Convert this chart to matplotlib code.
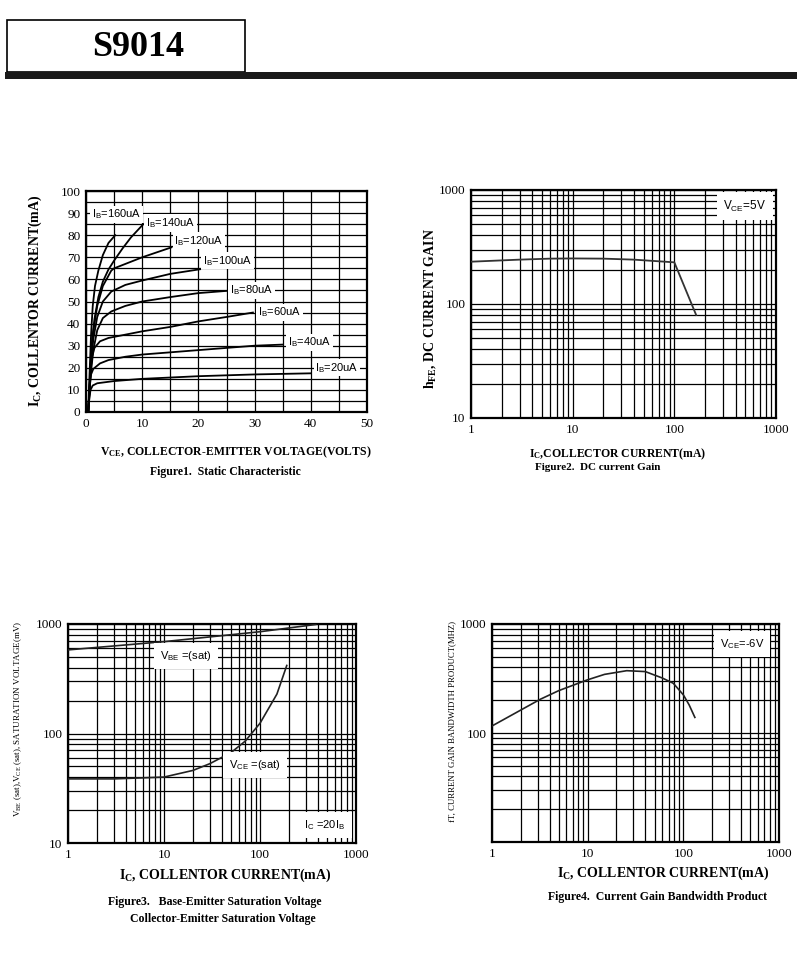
import numpy as np
import matplotlib
matplotlib.use("Agg")
import matplotlib.pyplot as plt
from matplotlib.patches import Rectangle
from matplotlib.ticker import FixedLocator, NullFormatter, LogLocator

W, H = 811, 957

# ---- Figure 1: static characteristic (Vce in V, Ic in mA) ----
ib_labels = ["160", "140", "120", "100", "80", "60", "40", "20"]
vce_curves = [
    [0.4, 0.6, 0.9, 1.2, 1.6, 2.2, 3.0, 4.0, 5.2],
    [0.4, 0.7, 1.0, 1.5, 2.2, 3.0, 4.0, 5.0, 6.5, 8.0, 10.2],
    [0.4, 0.8, 1.2, 2.0, 3.0, 4.5, 5.0, 10.0, 15.2],
    [0.4, 0.8, 1.3, 2.0, 3.0, 4.5, 7.0, 10.0, 15.0, 20.3],
    [0.4, 0.8, 1.3, 2.0, 3.0, 4.5, 7.0, 10.0, 15.0, 20.0, 25.0],
    [0.4, 0.7, 1.0, 1.5, 2.5, 4.0, 7.0, 10.0, 15.0, 20.0, 25.0, 29.7],
    [0.4, 0.6, 0.9, 1.3, 2.5, 4.0, 7.0, 10.0, 20.0, 30.0, 35.0],
    [0.4, 0.55, 0.8, 1.2, 2.0, 5.0, 10.0, 20.0, 30.0, 40.0],
]
ic_curves = [
    [0, 15, 35, 48, 57, 64, 71, 76.5, 80],
    [0, 15, 30, 42, 52, 59, 64.5, 68.5, 74, 79, 85],
    [0, 20, 35, 48, 57, 64, 65, 70, 74.5],
    [0, 18, 33, 43, 50, 54.5, 57.5, 59.5, 62.5, 64.6],
    [0, 16, 28, 37, 42.5, 45.5, 48, 50, 52, 53.8, 54.8],
    [0, 14, 24, 29, 32, 33.5, 35, 36.5, 38.5, 41, 43, 45],
    [0, 10, 17, 19.5, 22, 23.5, 25, 26, 28, 30, 30.5],
    [0, 5, 10, 12, 13, 14, 15, 16.2, 17, 17.5],
]
label_v = [1.0, 10.6, 15.7, 20.8, 25.6, 30.6, 35.9, 40.8]
label_i = [89.5, 85.5, 77.5, 68.5, 55.0, 45.0, 31.5, 20.0]

# ---- Figure 2: DC current gain ----
f2_ic = [1, 3, 6, 10, 20, 40, 100, 164]
f2_hfe = [235, 245, 250, 251, 250, 245, 232, 80]

# ---- Figure 3: saturation voltages ----
f3_ic_be = [1, 10, 100, 380]
f3_vbe = [580, 690, 850, 990]
f3_ic_ce = [1, 3, 10, 20, 30, 50, 70, 100, 150, 190]
f3_vce = [38.5, 38.5, 40, 46, 53, 67, 85, 124, 229, 418]

# ---- Figure 4: fT ----
f4_ic = [1, 3.2, 5, 9.8, 15, 25.6, 40, 60, 78.5, 100, 115, 132]
f4_ft = [116, 204, 245, 306, 345, 373, 366, 320, 286, 224, 181, 139]

SERIF = "Liberation Serif"
SANS = "Liberation Sans"
plt.rcParams["font.family"] = SERIF
plt.rcParams["mathtext.default"] = "regular"


def px(x, y):
    return x / W, 1 - y / H


def make_axes(fig, left, top, right, bottom):
    ax = fig.add_axes([left / W, 1 - bottom / H, (right - left) / W, (bottom - top) / H])
    for s in ax.spines.values():
        s.set_linewidth(1.6)
    ax.set_axisbelow(True)
    ax.tick_params(which="both", length=0, labelsize=9.5, pad=4)
    return ax


def style_log(ax, ylabels=(10, 100, 1000)):
    ax.set_xscale("log")
    ax.set_yscale("log")
    ax.set_xlim(1, 1000)
    ax.set_ylim(10, 1000)
    ax.xaxis.set_major_locator(FixedLocator([1, 10, 100, 1000]))
    ax.set_xticklabels(["1", "10", "100", "1000"])
    ax.yaxis.set_major_locator(FixedLocator(list(ylabels)))
    ax.set_yticklabels([str(v) for v in ylabels])
    ax.xaxis.set_minor_locator(LogLocator(base=10, subs=np.arange(2, 10)))
    ax.yaxis.set_minor_locator(LogLocator(base=10, subs=np.arange(1, 10)))
    ax.xaxis.set_minor_formatter(NullFormatter())
    ax.yaxis.set_minor_formatter(NullFormatter())
    ax.grid(True, which="both", color="black", linewidth=0.9)


def tag(ax, x, y, s, size=8):
    ax.text(x, y, s, transform=ax.transAxes, ha="center", va="center",
            fontsize=size, family=SANS, zorder=5,
            bbox=dict(boxstyle="square,pad=0.55", fc="white", ec="none"))


fig = plt.figure(figsize=(W / 100, H / 100), dpi=100)

# header
fig.patches.append(Rectangle(px(7, 72), 238 / W, 52 / H, transform=fig.transFigure,
                             fill=False, ec="black", lw=1.2))
fig.patches.append(Rectangle(px(5, 79), 792 / W, 7 / H, transform=fig.transFigure,
                             fc="#1a1a1a", ec="none"))
fig.text(*px(138, 47), "S9014", ha="center", va="center", fontsize=26,
         fontweight="bold", family=SERIF)

# Figure 1
ax1 = make_axes(fig, 86, 191, 367, 412)
ax1.set_xlim(0, 50)
ax1.set_ylim(0, 100)
ax1.set_xticks(np.arange(0, 51, 5), minor=True)
ax1.set_yticks(np.arange(0, 101, 5), minor=True)
ax1.set_xticks(np.arange(0, 51, 10))
ax1.set_yticks(np.arange(0, 101, 10))
ax1.grid(True, which="both", color="black", linewidth=0.9)
for v, i in zip(vce_curves, ic_curves):
    ax1.plot(v, i, color="black", lw=1.3, zorder=3)
for lab, lv, li in zip(ib_labels, label_v, label_i):
    ax1.text(lv, li, r"I$_{B}$=" + lab + "uA", ha="left", va="center", fontsize=8,
             family=SANS, zorder=5,
             bbox=dict(boxstyle="square,pad=0.15", fc="white", ec="none"))
fig.text(*px(35, 301), r"I$\mathregular{_C}$, COLLENTOR CURRENT(mA)", rotation=90,
         ha="center", va="center", fontsize=10, fontweight="bold")
fig.text(*px(236, 452), r"V$\mathregular{_{CE}}$, COLLECTOR-EMITTER VOLTAGE(VOLTS)",
         ha="center", va="center", fontsize=8.5, fontweight="bold")
fig.text(*px(225, 472), "Figure1.  Static Characteristic", ha="center", va="center",
         fontsize=8.5, fontweight="bold")

# Figure 2
ax2 = make_axes(fig, 471, 190, 776, 418)
style_log(ax2)
ax2.plot(f2_ic, f2_hfe, color="#333333", lw=1.3, zorder=3)
tag(ax2, 0.898, 0.93, r"V$_{CE}$=5V", size=8.5)
fig.text(*px(430, 309), r"h$\mathregular{_{FE}}$, DC CURRENT GAIN", rotation=90,
         ha="center", va="center", fontsize=10, fontweight="bold")
fig.text(*px(618, 454), r"I$\mathregular{_C}$,COLLECTOR CURRENT(mA)", ha="center",
         va="center", fontsize=8.5, fontweight="bold")
fig.text(*px(598, 468), "Figure2.  DC current Gain", ha="center", va="center",
         fontsize=8, fontweight="bold")

# Figure 3
ax3 = make_axes(fig, 68, 624, 356, 843)
style_log(ax3)
ax3.plot(f3_ic_be, f3_vbe, color="#222222", lw=1.2, zorder=3)
ax3.plot(f3_ic_ce, f3_vce, color="#222222", lw=1.2, zorder=3)
tag(ax3, 0.41, 0.854, r"V$_{BE}$ =(sat)")
tag(ax3, 0.65, 0.356, r"V$_{CE}$ =(sat)")
tag(ax3, 0.892, 0.082, r"I$_{C}$ =20I$_{B}$")
fig.text(*px(18, 719), r"V$\mathregular{_{BE}}$ (sat),V$\mathregular{_{CE}}$ (sat), SATURATION VOLTAGE(mV)",
         rotation=90, ha="center", va="center", fontsize=6.5)
fig.text(*px(225, 875), r"I$\mathregular{_C}$, COLLENTOR CURRENT(mA)", ha="center",
         va="center", fontsize=10, fontweight="bold")
fig.text(*px(215, 902), "Figure3.   Base-Emitter Saturation Voltage", ha="center",
         va="center", fontsize=8.5, fontweight="bold")
fig.text(*px(223, 919), "Collector-Emitter Saturation Voltage", ha="center",
         va="center", fontsize=8.5, fontweight="bold")

# Figure 4
ax4 = make_axes(fig, 492, 624, 779, 842)
style_log(ax4, ylabels=(100, 1000))
ax4.plot(f4_ic, f4_ft, color="#222222", lw=1.2, zorder=3)
tag(ax4, 0.871, 0.908, r"V$_{CE}$=-6V")
fig.text(*px(452, 722), "fT, CURRENT GAIN BANDWIDTH PRODUCT(MHZ)", rotation=90,
         ha="center", va="center", fontsize=6.3)
fig.text(*px(663, 873), r"I$\mathregular{_C}$, COLLENTOR CURRENT(mA)", ha="center",
         va="center", fontsize=10, fontweight="bold")
fig.text(*px(657, 897), "Figure4.  Current Gain Bandwidth Product", ha="center",
         va="center", fontsize=8.5, fontweight="bold")

fig.savefig("out.png", dpi=100)
